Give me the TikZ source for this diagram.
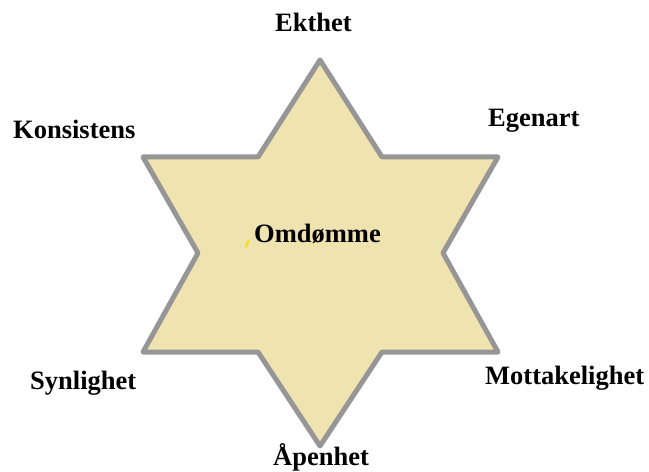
\documentclass[tikz,border=0pt]{standalone}
\usepackage{fontspec}
\setmainfont{Liberation Serif}
\definecolor{starfill}{RGB}{239,227,176}
\definecolor{starline}{RGB}{150,150,150}

\begin{document}
\begin{tikzpicture}[x=1bp,y=-1bp,
  lbl/.style={font=\fontsize{26.5bp}{30bp}\selectfont\bfseries, anchor=base west, inner sep=0pt}]
\useasboundingbox (0,0) rectangle (649,472);
\draw[starline, line width=5bp, line join=round, fill=starfill]
  (320,60) -- (258,157) -- (143,157) -- (198,253) -- (143,352) -- (258,352)
  -- (320,446) -- (382,352) -- (498,352) -- (443,253) -- (498,157) -- (382,157) -- cycle;
\node[lbl] (ekthet) at (275,32) {Ekthet};
\node[lbl] (egenart) at (488,127) {Egenart};
\node[lbl] (konsistens) at (13,139) {Konsistens};
\node[lbl] (omdomme) at (254,243) {Omdømme};
\node[lbl] (synlighet) at (30,389) {Synlighet};
\node[lbl] (mottak) at (485,384) {Mottakelighet};
\node[lbl] (apenhet) at (273,465) {Åpenhet};
\draw[yellow!80!orange, line width=2bp] (246,247) -- (248.5,240);
\end{tikzpicture}
\end{document}
